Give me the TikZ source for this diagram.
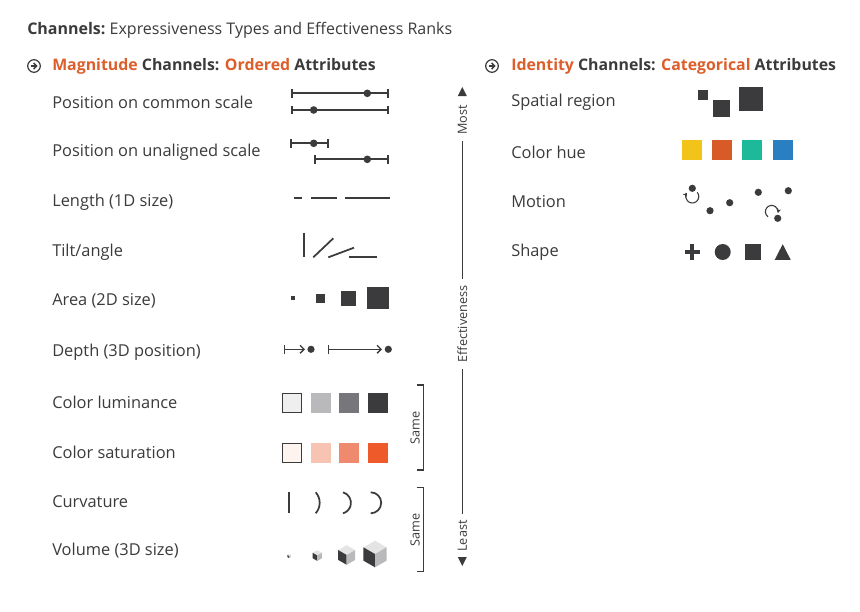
\documentclass[tikz,border=0pt]{standalone}
\usepackage{fontspec}
\setmainfont{Open Sans}
\usetikzlibrary{arrows.meta,positioning}
\definecolor{ink}{HTML}{3B3B3D}
\definecolor{accent}{HTML}{DD5E2A}
\definecolor{lumA}{HTML}{EFEFF0}
\definecolor{lumB}{HTML}{B9B9BC}
\definecolor{lumC}{HTML}{77777B}
\definecolor{lumD}{HTML}{3B3B3D}
\definecolor{satA}{HTML}{FDF3EF}
\definecolor{satB}{HTML}{F7C3B3}
\definecolor{satC}{HTML}{F08A6E}
\definecolor{satD}{HTML}{EF5A2A}
\definecolor{hueA}{HTML}{F2C318}
\definecolor{hueB}{HTML}{D85A26}
\definecolor{hueC}{HTML}{1CB99A}
\definecolor{hueD}{HTML}{2A7FC0}
\tikzset{
  rowlabel/.style={anchor=west, text=ink, inner sep=0pt, font=\fontsize{12.3}{14}\selectfont},
  titleline/.style={anchor=west, text=ink, inner sep=0pt, font=\fontsize{12}{14}\selectfont},
  headline/.style={anchor=west, text=ink, inner sep=0pt, font=\fontsize{11.9}{14}\selectfont},
  sidelabel/.style={rotate=90, text=ink, inner sep=1pt, font=\fontsize{9.5}{10}\selectfont},
  posbar/.style={ink, line width=1.4pt, {Bar[width=6.5pt]}-{Bar[width=6.5pt]}},
  glyph/.style={ink, line width=1.3pt},
  depthbar/.style={ink, line width=1pt, {Bar[width=6.5pt]}-{Straight Barb[length=3pt,width=6pt]}},
  spin/.style={ink, line width=0.8pt, -{Stealth[length=3pt,width=3.5pt]}},
  bracket/.style={ink, line width=1pt}
}
% isometric cube: centre x, centre y, edge
\newcommand{\isocube}[3]{%
  \pgfmathsetmacro{\cw}{0.866*#3}\pgfmathsetmacro{\ch}{0.5*#3}
  \fill[lumA!80!lumB] (#1,#2) -- ++(-\cw,-\ch) -- ++(\cw,-\ch) -- ++(\cw,\ch) -- cycle;
  \fill[ink] (#1,#2) -- ++(-\cw,-\ch) -- ++(0,#3) -- ++(\cw,\ch) -- cycle;
  \fill[lumB] (#1,#2) -- ++(\cw,-\ch) -- ++(0,#3) -- ++(-\cw,\ch) -- cycle;
}
\newcommand{\goicon}[2]{%
  \draw[ink, line width=0.9pt] (#1,#2) circle (6.3);
  \draw[ink, line width=1.1pt, -{Straight Barb[length=2.2pt,width=4.6pt]}] (#1-3.4,#2) -- (#1+3.6,#2);
}
\begin{document}
\begin{tikzpicture}[x=0.75pt, y=-0.75pt]
    \useasboundingbox[fill=white] (0,0) rectangle (860,611);
    % Title
    \node[titleline] (title) at (27,30) {\bfseries Channels:\mdseries\ Expressiveness Types and Effectiveness Ranks};
    \goicon{34}{66}
    \node[headline] (magnitude) at (52,66) {\bfseries\textcolor{accent}{Magnitude} Channels: \textcolor{accent}{Ordered} Attributes};
    \goicon{492}{66}
    \node[headline] (identity) at (511,66) {\bfseries\textcolor{accent}{Identity} Channels: \textcolor{accent}{Categorical} Attributes};

    % Labels, magnitude side
    \node[rowlabel] (pcommon) at (52,102) {Position on common scale};
    \node[rowlabel] (punaligned) at (52,152) {Position on unaligned scale};
    \node[rowlabel] (length) at (52,202) {Length (1D size)};
    \node[rowlabel] (tilt) at (52,252) {Tilt/angle};
    \node[rowlabel] (area) at (52,301) {Area (2D size)};
    \node[rowlabel] (depth) at (52,352) {Depth (3D position)};
    \node[rowlabel] (luminance) at (52,402) {Color luminance};
    \node[rowlabel] (saturation) at (52,452) {Color saturation};
    \node[rowlabel] (curvature) at (52,502) {Curvature};
    \node[rowlabel] (volume) at (52,551) {Volume (3D size)};

    % Labels, identity side
    \node[rowlabel] (region) at (511,102) {Spatial region};
    \node[rowlabel] (hue) at (511,152) {Color hue};
    \node[rowlabel] (motion) at (511,202) {Motion};
    \node[rowlabel] (shape) at (511,252) {Shape};

    % Position bars
    \draw[posbar] (291,93.3) -- (389,93.3);
    \fill[ink] (367.3,93.3) circle (3.8);
    \draw[posbar] (291,110) -- (389,110);
    \fill[ink] (313.7,110) circle (3.8);
    \draw[posbar] (290.3,143.3) -- (328.7,143.3);
    \fill[ink] (313.7,143.3) circle (3.8);
    \draw[posbar] (314.3,159.3) -- (389,159.3);
    \fill[ink] (367.3,159.3) circle (3.8);

    % Length
    \draw[glyph] (294,198.3) -- (302,198.3);
    \draw[glyph] (311.3,198.3) -- (336.7,198.3);
    \draw[glyph] (345.3,198.3) -- (390,198.3);

    % Tilt
    \draw[glyph] (304.3,232.7) -- (304.3,257.3);
    \draw[glyph] (313.3,257.3) -- (333.3,238.3);
    \draw[glyph] (328.3,257.3) -- (354,247.7);
    \draw[glyph] (349,257.3) -- (376.7,257.3);

    % Area
    \foreach \cx/\s in {293/4, 320.5/9, 348.5/15, 378/22}
        \fill[ink] ({\cx-\s/2},{298-\s/2}) rectangle ++(\s,\s);

    % Depth
    \draw[depthbar] (284,349.3) -- (305,349.3);
    \fill[ink] (311,349.3) circle (3.6);
    \draw[depthbar] (327.7,349.3) -- (382,349.3);
    \fill[ink] (388.3,349.3) circle (3.6);

    % Luminance and saturation
    \foreach \sx/\cl/\cs in {282.3/lumA/satA, 310.7/lumB/satB, 339/lumC/satC, 367.7/lumD/satD} {
        \fill[\cl] (\sx,392.7) rectangle ++(20,20);
        \fill[\cs] (\sx,442.7) rectangle ++(20,20);
    }
    \draw[ink, line width=0.9pt] (282.8,393.2) rectangle ++(19,19);
    \draw[ink, line width=0.9pt] (282.8,443.2) rectangle ++(19,19);

    % Curvature
    \draw[glyph] (289,492.3) -- (289,513.3);
    \draw[glyph] (315.7,492.3) arc[start angle=-41.6, end angle=41.6, radius=15.8];
    \draw[glyph] (343,492.3) arc[start angle=-74.4, end angle=74.4, radius=10.9];
    \draw[glyph] (370.7,492.3) arc[start angle=-90, end angle=90, radius=10.5];

    % Volume
    \isocube{289}{556}{2}
    \isocube{317.3}{555.5}{5.4}
    \isocube{346.7}{555}{9.8}
    \isocube{375}{554}{13.3}

    % Same brackets
    \draw[bracket] (416.7,385) -- (423.3,385) -- (423.3,470) -- (416.7,470);
    \node[sidelabel] (same1) at (415,428) {Same};
    \draw[bracket] (416.7,487.3) -- (423.3,487.3) -- (423.3,571.7) -- (416.7,571.7);
    \node[sidelabel] (same2) at (415,530) {Same};

    % Effectiveness axis
    \fill[ink] (462.3,87) -- (466.8,96) -- (457.8,96) -- cycle;
    \fill[ink] (462.3,566) -- (466.8,557) -- (457.8,557) -- cycle;
    \node[sidelabel] (most) at (462.3,120) {Most};
    \node[sidelabel] (effect) at (462.3,324) {Effectiveness};
    \node[sidelabel] (least) at (462.3,536) {Least};
    \draw[ink, line width=1pt, shorten <=3.5pt, shorten >=3.5pt] (most) -- (effect);
    \draw[ink, line width=1pt, shorten <=3.5pt, shorten >=3.5pt] (effect) -- (least);

    % Spatial region
    \fill[ink] (698.3,90) rectangle ++(9.5,9.5);
    \fill[ink] (713.3,100) rectangle ++(17,17);
    \fill[ink] (739.3,86.7) rectangle ++(24,24);

    % Color hue
    \foreach \hx/\hc in {682.3/hueA, 712.3/hueB, 742.3/hueC, 773/hueD}
        \fill[\hc] (\hx,140) rectangle ++(19.5,19.5);

    % Motion
    \foreach \mx/\my in {692.3/188.3, 710/210.7, 729.7/202.7, 758.3/192.3, 788.3/190.7, 777.7/218.3}
        \fill[ink] (\mx,\my) circle (3.6);
    \draw[spin] (692.3,196.5) ++(-40:6.5) arc[start angle=-40, end angle=215, radius=6.5];
    \draw[spin] (771.7,211.7) ++(125:6.3) arc[start angle=125, end angle=372, radius=6.3];

    % Shape
    \fill[ink] (684.5,250) rectangle (700.1,254);
    \fill[ink] (690.3,244.2) rectangle (694.3,259.8);
    \fill[ink] (722.7,252) circle (8);
    \fill[ink] (744.9,244.2) rectangle ++(15.6,15.6);
    \fill[ink] (782.7,244.2) -- (790.7,259.8) -- (774.7,259.8) -- cycle;
\end{tikzpicture}
\end{document}
